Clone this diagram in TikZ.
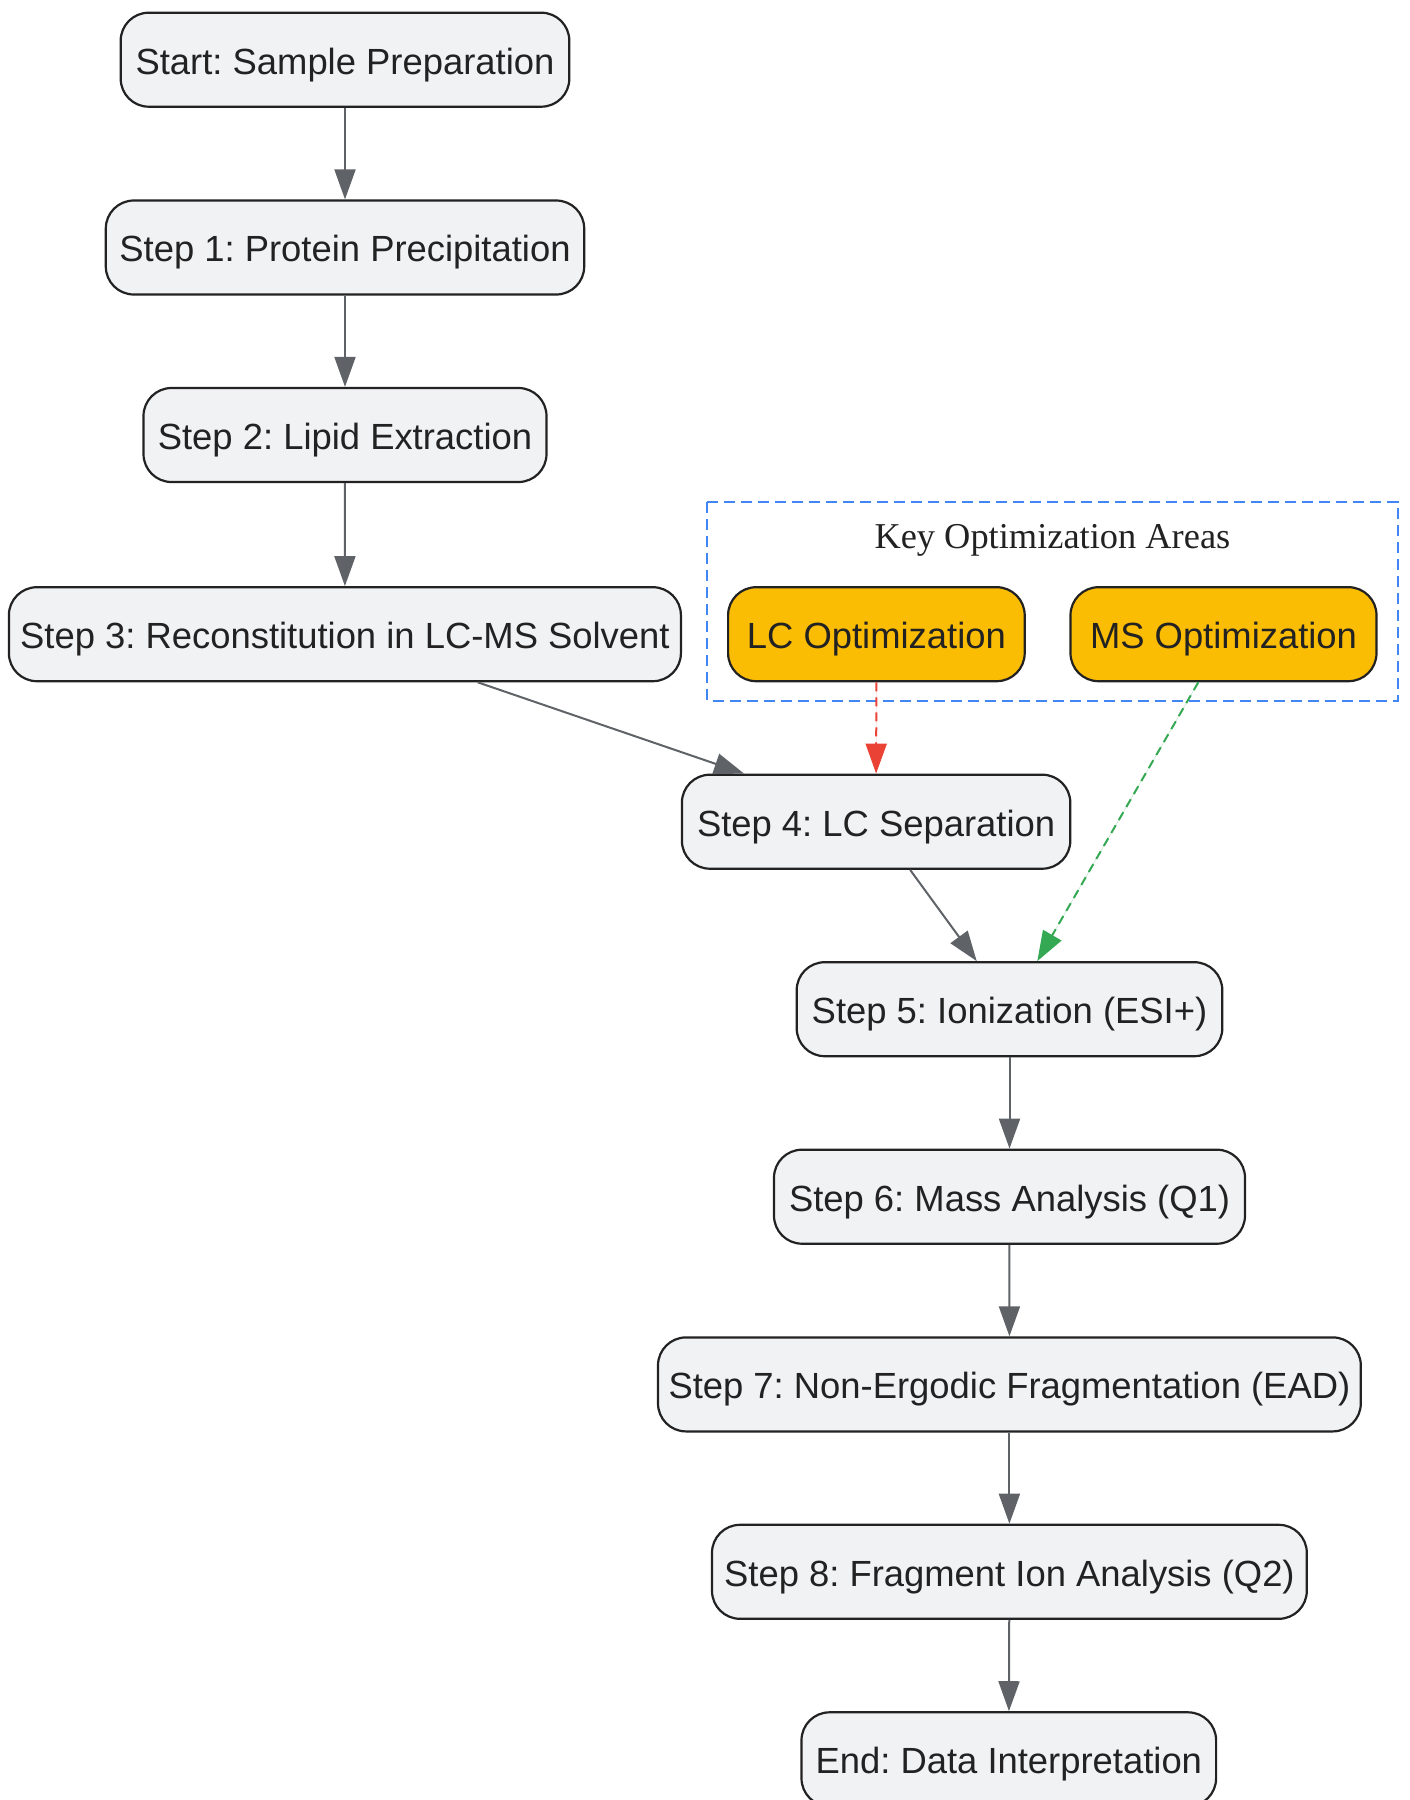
\documentclass[tikz,border=0pt]{standalone}
\usepackage{fontspec}
\setmainfont{Liberation Sans}
\newfontfamily\ttlfont{Liberation Serif}
\usetikzlibrary{arrows.meta}
\frenchspacing
\definecolor{nodefill}{HTML}{F1F2F4}
\definecolor{nodeline}{HTML}{222222}
\definecolor{txt}{HTML}{222222}
\definecolor{edgegray}{HTML}{5F6368}
\definecolor{optfill}{HTML}{FBBC04}
\definecolor{redE}{HTML}{EA4335}
\definecolor{greenE}{HTML}{34A853}
\definecolor{blueC}{HTML}{4285F4}
\tikzset{
  stepbox/.style={draw=nodeline, fill=nodefill, line width=1.1pt, rounded corners=14pt,
    minimum height=47pt, inner sep=0pt, text=txt,
    font=\fontsize{18.2pt}{22pt}\selectfont, text height=15.9pt, text depth=1.6pt},
  optbox/.style={stepbox, fill=optfill},
  flow/.style={draw=edgegray, line width=1pt, -{Triangle[length=15pt,width=10.5pt]}},
  redflow/.style={draw=redE, line width=1pt, dash pattern=on 4.5pt off 3pt, -{Triangle[length=15pt,width=10.5pt]}, fill=redE},
  greenflow/.style={draw=greenE, line width=1pt, dash pattern=on 4.5pt off 3pt, -{Triangle[length=15pt,width=10.5pt]}, fill=greenE},
  clusterbox/.style={draw=blueC, line width=1pt, dash pattern=on 5.5pt off 3pt}
}
\begin{document}
\begin{tikzpicture}[x=0.5pt, y=-0.5pt]
\useasboundingbox (0,0) rectangle (1409,1800);
% cluster
\draw[clusterbox] (707.3,502.3) rectangle (1398,701);
\node[anchor=base, text=txt, font=\ttlfont\fontsize{18.2pt}{22pt}\selectfont] (ctitle) at (1052.4,548.3) {Key Optimization Areas};
% main column
\node[stepbox, minimum width=224.3pt] (start) at (345,59.7) {Start: Sample Preparation};
\node[stepbox, minimum width=239.2pt] (s1) at (345,247.5) {Step 1: Protein Precipitation};
\node[stepbox, minimum width=201.5pt] (s2) at (345,435) {Step 2: Lipid Extraction};
\node[stepbox, minimum width=336pt] (s3) at (344.9,634.2) {Step 3: Reconstitution in LC-MS Solvent};
\node[optbox, minimum width=148.3pt] (lc) at (876.4,634.2) {LC Optimization};
\node[optbox, minimum width=153pt] (ms) at (1223.5,634.2) {MS Optimization};
\node[stepbox, minimum width=194.2pt] (s4) at (876.1,821.7) {Step 4: LC Separation};
\node[stepbox, minimum width=212.8pt] (s5) at (1009.5,1009.2) {Step 5: Ionization (ESI+)};
\node[stepbox, minimum width=235.5pt] (s6) at (1009.5,1196.7) {Step 6: Mass Analysis (Q1)};
\node[stepbox, minimum width=351.4pt] (s7) at (1009.4,1384.4) {Step 7: Non-Ergodic Fragmentation (EAD)};
\node[stepbox, minimum width=297.4pt] (s8) at (1009.4,1571.8) {Step 8: Fragment Ion Analysis (Q2)};
\node[stepbox, minimum width=207.3pt] (end) at (1008.8,1759.3) {End: Data Interpretation};
% edges
\draw[flow] (start) -- (s1);
\draw[flow] (s1) -- (s2);
\draw[flow] (s2) -- (s3);
\draw[flow] ([xshift=66.4pt]s3.south) -- ([xshift=-66pt]s4.north);
\draw[redflow] (lc.south) -- (s4.north);
\draw[flow] ([xshift=17pt]s4.south) -- ([xshift=-16.4pt]s5.north);
\draw[greenflow] ([xshift=-12.6pt]ms.south) -- ([xshift=13.9pt]s5.north);
\draw[flow] (s5) -- (s6);
\draw[flow] (s6) -- (s7);
\draw[flow] (s7) -- (s8);
\draw[flow] (s8) -- (end);
\end{tikzpicture}
\end{document}
